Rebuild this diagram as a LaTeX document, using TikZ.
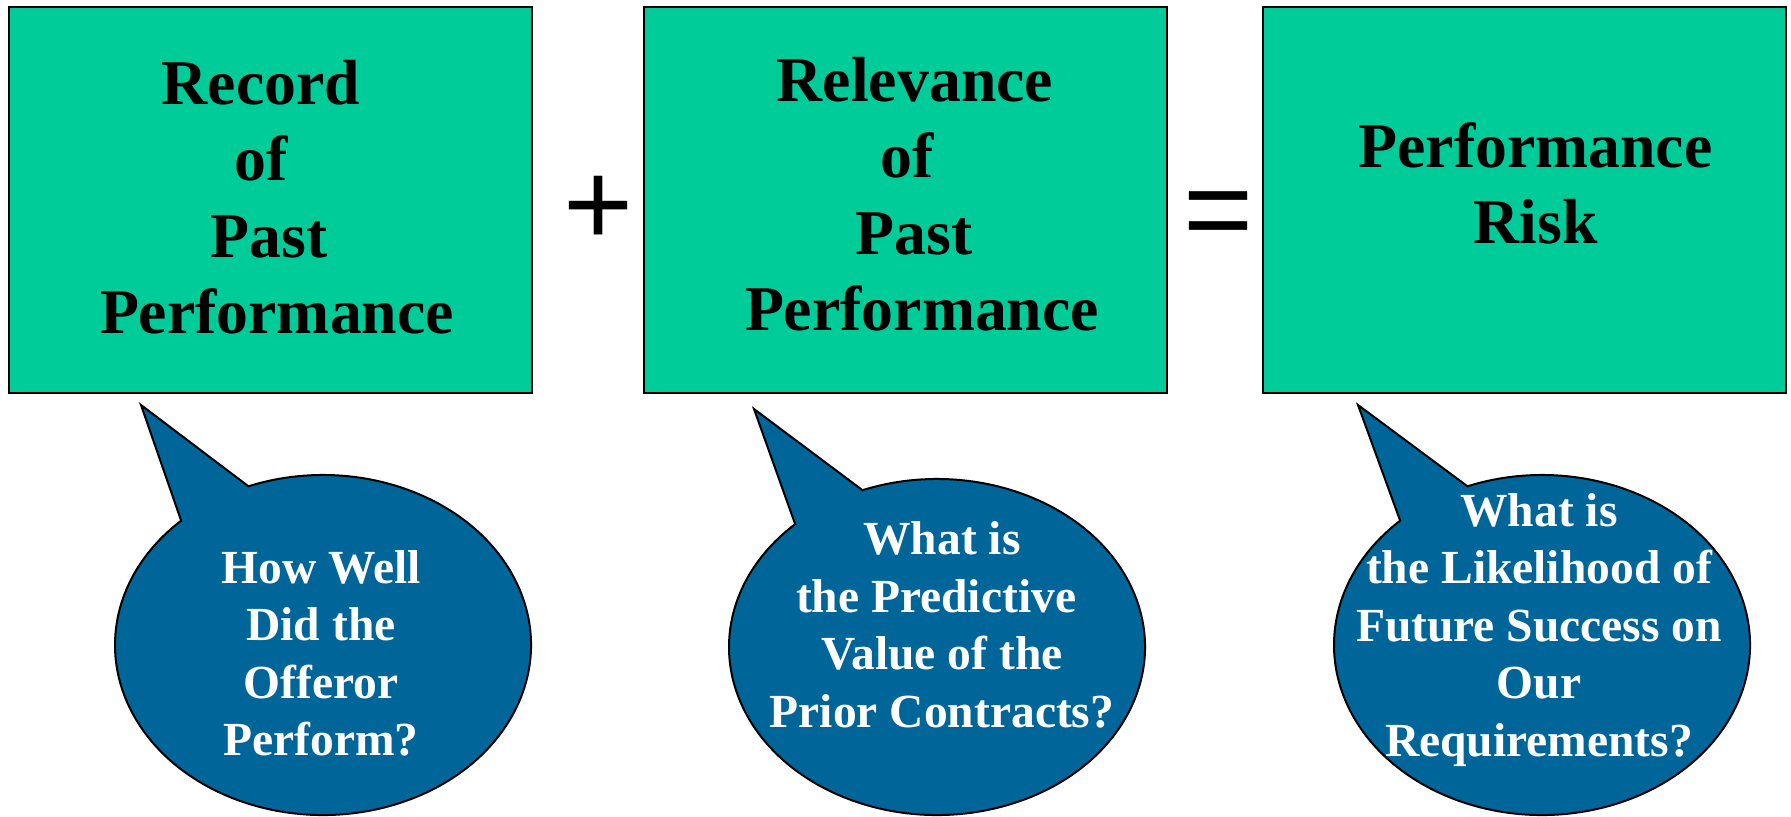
\documentclass[tikz,border=0pt]{standalone}
\usepackage{fontspec}
\setmainfont{Liberation Serif}
\newfontfamily\signfont{Liberation Sans}
\usetikzlibrary{positioning}

\definecolor{boxgreen}{RGB}{0,204,153}
\definecolor{bubbleblue}{RGB}{0,102,153}

\begin{document}
\begin{tikzpicture}[x=0.4pt,y=-0.4pt]

\tikzset{factor/.style = {shape=rectangle,draw,fill=boxgreen,line width=0.8pt,minimum width=209.2pt,minimum height=154.4pt,inner sep=0pt}}
\tikzset{factortext/.style = {align=center,inner sep=0pt,font=\fontsize{25.5}{30.6}\selectfont\bfseries}}
\tikzset{bubble/.style = {draw,fill=bubbleblue,line width=0.8pt,line join=miter}}
\tikzset{question/.style = {align=center,inner sep=0pt,text=white,font=\fontsize{19}{23}\selectfont\bfseries}}
\tikzset{sign/.style = {inner sep=0pt,anchor=base,font=\signfont\fontsize{48}{48}\selectfont}}

\useasboundingbox (0,0) rectangle (1791,816);

% boxes
\node[factor] (record) at (270.5,200) {};
\node[factor] (relevance) at (905.5,200) {};
\node[factor] (risk) at (1524.5,200) {};
\node[factortext] (recordtext) at (277,197) {\mbox{Record\hspace{0.5em}}\\\mbox{of\hspace{0.5em}}\\\mbox{Past\hspace{0.25em}}\\Performance};
\node[factortext] (relevancetext) at (922,194) {\mbox{Relevance\hspace{0.22em}}\\\mbox{of\hspace{0.47em}}\\\mbox{Past\hspace{0.25em}}\\Performance};
\node[factortext] (risktext) at (1535.5,183.5) {Performance\\Risk};
\node[sign] (plus) at (599,245) {+};
\node[sign] (equals) at (1219,250) {=};

% bubbles
\draw[bubble, shift={(323,645)}] (227:208 and 170) -- (-182,-240) -- (249:208 and 170)
  arc[start angle=249, end angle=587, x radius=208, y radius=170] -- cycle;
\draw[bubble, shift={(937,647)}] (227:208 and 168) -- (-183,-238) -- (249:208 and 168)
  arc[start angle=249, end angle=587, x radius=208, y radius=168] -- cycle;
\draw[bubble, shift={(1542,645)}] (227:208 and 170) -- (-184,-240) -- (249:208 and 170)
  arc[start angle=249, end angle=587, x radius=208, y radius=170] -- cycle;
\node[question] (how) at (321,653.5) {How Well\\Did the\\Offeror\\Perform?};
\node[question] (what) at (942,625) {What is\\\mbox{the Predictive\hspace{0.25em}}\\Value of the\\Prior Contracts?};
\node[question] (likely) at (1539,630) {What is\\the Likelihood of\\Future Success on\\Our\\Requirements?};

\end{tikzpicture}
\end{document}
